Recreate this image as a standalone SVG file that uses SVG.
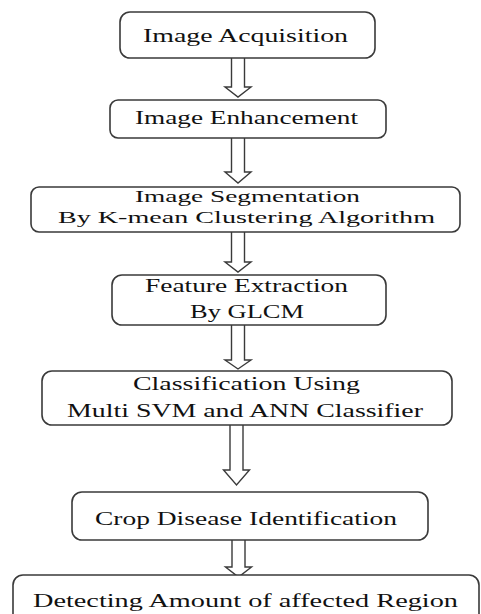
<svg xmlns="http://www.w3.org/2000/svg" width="481" height="614" viewBox="0 0 481 614">
<style>
.box{fill:#fff;stroke:#3a3a3a;stroke-width:1.6}
.arr{fill:#fff;stroke:#3a3a3a;stroke-width:1.4;stroke-linejoin:miter}
text{font-family:"Liberation Serif","Times New Roman",serif;font-size:18.5px;fill:#111}
.sm{font-size:16.5px}
</style>
<rect width="481" height="614" fill="#fff"/>
<g id="connectors">
<path class="arr" d="M231.5,58 V87 H225 L238,97 L251,87 H244.5 V58"/>
<path class="arr" d="M231.5,138 V172 H225 L238,183 L251,172 H244.5 V138"/>
<path class="arr" d="M231.5,232 V262 H225 L238,272 L251,262 H244.5 V232"/>
<path class="arr" d="M231.5,325 V360 H225 L238,369 L251,360 H244.5 V325"/>
<path class="arr" d="M230,425 V470 H223.5 L236.5,485 L249.5,470 H243 V425"/>
<path class="arr" d="M232,540 V567 H225.5 L238.5,577 L251.5,567 H245 V540"/>
</g>
<g id="n1"><rect class="box" x="120" y="12" width="255" height="46" rx="10"/><text x="143" y="42" textLength="205" lengthAdjust="spacingAndGlyphs">Image Acquisition</text></g>
<g id="n2"><rect class="box" x="110" y="100" width="276" height="38" rx="8"/><text x="135" y="124" textLength="223" lengthAdjust="spacingAndGlyphs">Image Enhancement</text></g>
<g id="n3"><rect class="box" x="31" y="187" width="429" height="45" rx="8"/><text class="sm" x="135" y="202" textLength="225" lengthAdjust="spacingAndGlyphs">Image Segmentation</text><text class="sm" x="58" y="223" textLength="377" lengthAdjust="spacingAndGlyphs">By K-mean  Clustering  Algorithm</text></g>
<g id="n4"><rect class="box" x="112" y="275" width="274" height="50" rx="10"/><text x="145" y="292" textLength="203" lengthAdjust="spacingAndGlyphs">Feature Extraction</text><text x="190" y="318" textLength="114" lengthAdjust="spacingAndGlyphs">By GLCM</text></g>
<g id="n5"><rect class="box" x="42" y="371" width="410" height="54" rx="10"/><text x="133" y="390" textLength="227" lengthAdjust="spacingAndGlyphs">Classification  Using</text><text x="67" y="417" textLength="356" lengthAdjust="spacingAndGlyphs">Multi SVM and ANN Classifier</text></g>
<g id="n6"><rect class="box" x="72" y="492" width="356" height="48" rx="10"/><text x="95" y="525" textLength="302" lengthAdjust="spacingAndGlyphs">Crop Disease Identification</text></g>
<g id="n7"><rect class="box" x="13" y="575" width="466" height="50" rx="10"/><text x="33" y="607" textLength="425" lengthAdjust="spacingAndGlyphs">Detecting  Amount of affected  Region</text></g>
</svg>
